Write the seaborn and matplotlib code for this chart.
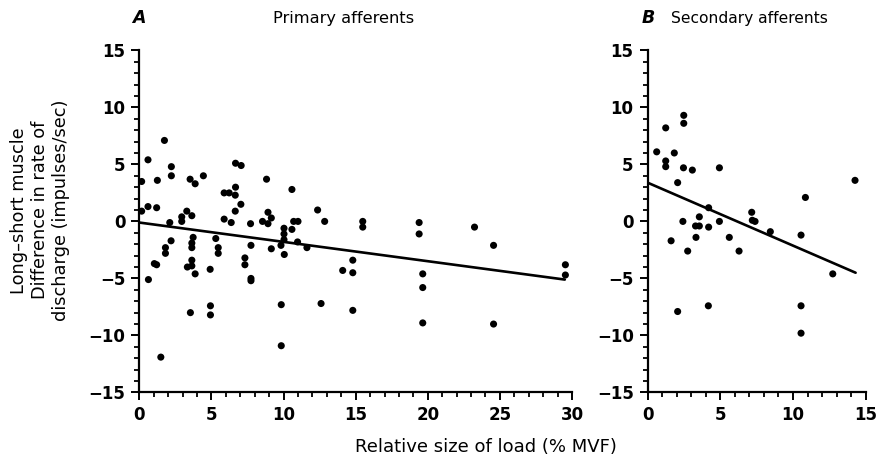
import pandas as pd
import seaborn as sns
import matplotlib.pyplot as plt
from matplotlib.ticker import MultipleLocator

# A - primary afferents: load (% MVF) vs long-short difference (impulses/sec)
primary_load = [1.74, 0.60, 2.22, 2.22, 0.16, 1.25, 3.52, 3.87, 4.44, 6.67,
                7.06, 8.82, 10.58, 5.88, 6.23, 6.67, 6.65, 7.04, 0.60, 1.20,
                0.16, 12.36, 3.29, 3.64, 2.94, 2.94, 2.11, 5.88, 6.37, 6.65,
                7.71, 8.54, 8.92, 9.15, 8.92, 10.03, 10.03, 10.58, 10.70, 11.00,
                12.85, 15.49, 15.49, 10.03, 9.82, 10.97, 11.62, 1.81, 1.81, 2.20,
                1.04, 1.20, 0.63, 3.73, 3.64, 3.64, 3.64, 3.64, 3.33, 3.87,
                5.30, 5.47, 5.47, 4.91, 7.32, 7.32, 7.74, 7.74, 7.74, 9.15,
                10.05, 3.54, 4.93, 4.93, 9.84, 12.60, 14.80, 1.49, 9.84, 14.10,
                14.80, 14.80, 19.40, 19.40, 23.24, 24.56, 29.54, 29.54, 19.65, 19.65,
                19.65, 24.56]
primary_diff = [7.1, 5.4, 4.8, 4.0, 3.5, 3.6, 3.7, 3.3, 4.0, 5.1,
                4.9, 3.7, 2.8, 2.5, 2.5, 3.0, 2.3, 1.5, 1.3, 1.2,
                0.9, 1.0, 0.9, 0.5, 0.4, 0.0, -0.1, 0.2, -0.1, 0.9,
                -0.2, 0.0, 0.8, 0.3, -0.2, -0.6, -1.1, -0.7, 0.0, 0.0,
                0.0, 0.0, -0.5, -1.6, -2.1, -1.8, -2.3, -2.3, -2.8, -1.7,
                -3.7, -3.8, -5.1, -1.4, -1.9, -2.3, -3.4, -3.9, -4.0, -4.6,
                -1.5, -2.3, -2.8, -4.2, -3.2, -3.8, -2.1, -5.0, -5.2, -2.4,
                -2.9, -8.0, -7.4, -8.2, -7.3, -7.2, -7.8, -11.9, -10.9, -4.3,
                -3.4, -4.5, -0.1, -1.1, -0.5, -2.1, -3.8, -4.7, -4.6, -5.8,
                -8.9, -9.0]

# B - secondary afferents
secondary_load = [0.63, 1.25, 1.25, 1.25, 1.84, 2.49, 2.49, 2.47, 3.08, 2.07,
                  4.94, 14.26, 10.85, 4.20, 3.56, 2.43, 3.30, 3.56, 4.20, 4.94,
                  7.16, 7.20, 7.39, 8.44, 10.55, 1.62, 2.76, 3.33, 5.62, 6.29,
                  12.73, 2.07, 4.18, 10.55, 10.55]
secondary_diff = [6.1, 8.2, 5.3, 4.8, 6.0, 9.3, 8.6, 4.7, 4.5, 3.4,
                  4.7, 3.6, 2.1, 1.2, 0.4, 0.0, -0.4, -0.4, -0.5, 0.0,
                  0.8, 0.1, 0.0, -0.9, -1.2, -1.7, -2.6, -1.4, -1.4, -2.6,
                  -4.6, -7.9, -7.4, -7.4, -9.8]

# fitted regression lines as drawn in the figure
primary_fit_load = [0, 29.5]
primary_fit_diff = [-0.1, -5.1]
secondary_fit_load = [0, 14.3]
secondary_fit_diff = [3.4, -4.5]

df_a = pd.DataFrame({'load': primary_load, 'diff': primary_diff})
df_b = pd.DataFrame({'load': secondary_load, 'diff': secondary_diff})
fit_a = pd.DataFrame({'load': primary_fit_load, 'diff': primary_fit_diff})
fit_b = pd.DataFrame({'load': secondary_fit_load, 'diff': secondary_fit_diff})

sns.set_style('ticks')
plt.rcParams['font.family'] = ['DejaVu Sans']
plt.rcParams['text.color'] = 'black'
plt.rcParams['xtick.color'] = 'black'
plt.rcParams['ytick.color'] = 'black'

fig = plt.figure(figsize=(8.78, 4.63), dpi=100)
ax_a = fig.add_axes([0.1587, 0.1523, 0.4928, 0.739])
ax_b = fig.add_axes([0.7375, 0.1523, 0.2486, 0.739])

for ax, pts, fit, xmax in [(ax_a, df_a, fit_a, 30), (ax_b, df_b, fit_b, 15)]:
    sns.scatterplot(x='load', y='diff', data=pts, ax=ax, color='black',
                    s=26, edgecolor='none', clip_on=False, zorder=3)
    sns.lineplot(x='load', y='diff', data=fit, ax=ax, color='black',
                 linewidth=1.9, estimator=None)
    ax.set_xlim(0, xmax)
    ax.set_ylim(-15, 15)
    ax.xaxis.set_major_locator(MultipleLocator(5))
    ax.xaxis.set_minor_locator(MultipleLocator(1))
    ax.yaxis.set_major_locator(MultipleLocator(5))
    ax.yaxis.set_minor_locator(MultipleLocator(1))
    ax.tick_params(which='major', direction='out', length=6, width=1.4,
                   labelsize=12, pad=4, colors='black')
    ax.tick_params(which='minor', direction='out', length=3.5, width=1.3)
    for lab in ax.get_xticklabels() + ax.get_yticklabels():
        lab.set_fontweight('bold')
    for side in ['top', 'right']:
        ax.spines[side].set_visible(False)
    for side in ['left', 'bottom']:
        ax.spines[side].set_linewidth(1.6)
        ax.spines[side].set_color('black')
    ax.set_xlabel('')
    ax.set_ylabel('')

fig.text(0.151, 0.961, 'A', fontsize=12.5, style='italic', fontweight='bold',
         ha='left', va='center')
fig.text(0.391, 0.961, 'Primary afferents', fontsize=11.7, ha='center', va='center')
fig.text(0.731, 0.961, 'B', fontsize=12.5, style='italic', fontweight='bold',
         ha='left', va='center')
fig.text(0.854, 0.961, 'Secondary afferents', fontsize=11.2, ha='center', va='center')

fig.text(0.0455, 0.546, 'Long\u2013short muscle\nDifference in rate of\ndischarge (impulses/sec)',
         rotation=90, fontsize=12.8, ha='center', va='center', linespacing=1.2,
         multialignment='center')
fig.text(0.553, 0.035, 'Relative size of load (% MVF)', fontsize=13,
         ha='center', va='center')

fig.savefig('out.png', dpi=100)
